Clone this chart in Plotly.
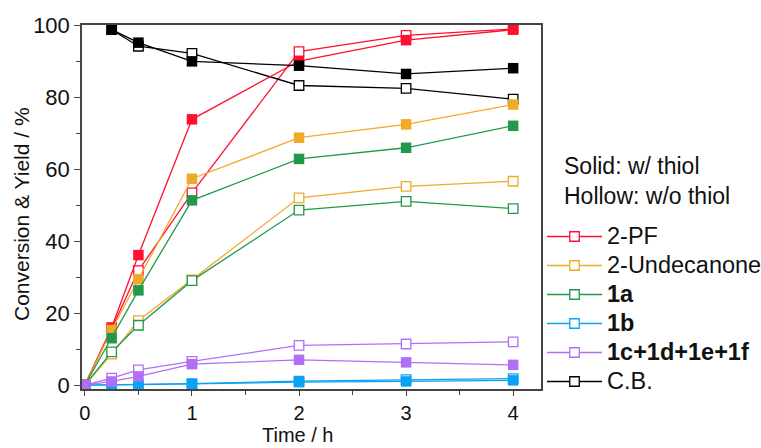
import plotly.graph_objects as go

time_h = [0, 0.25, 0.5, 1, 2, 3, 4]

names = ["2-PF", "2-Undecanone", "<b>1a</b>", "<b>1b</b>", "<b>1c+1d+1e+1f</b>", "C.B."]
colors = ["#FF1030", "#F0AA28", "#22994A", "#0AA2F5", "#B070F5", "#000000"]

solid_pf = [0, 16.0, 36.1, 73.8, 90.0, 95.8, 98.7]
solid_und = [0, 15.3, 29.4, 57.3, 68.7, 72.4, 77.9]
solid_1a = [0, 13.0, 26.3, 51.3, 62.8, 65.9, 72.0]
solid_1b = [0, 0.0, 0.1, 0.3, 0.8, 1.0, 1.3]
solid_1c = [0, 1.0, 2.4, 5.8, 7.0, 6.3, 5.6]
solid_cb = [None, 98.7, 95.1, 89.9, 88.7, 86.4, 88.0]

hollow_pf = [0, 15.6, 31.8, 53.4, 92.6, 97.1, 98.9]
hollow_und = [0, 8.6, 17.9, 29.2, 52.0, 55.2, 56.6]
hollow_1a = [0, 9.2, 16.6, 29.0, 48.6, 51.0, 49.0]
hollow_1b = [0, 0.1, 0.2, 0.4, 1.1, 1.5, 1.8]
hollow_1c = [0, 1.9, 4.2, 6.6, 11.0, 11.4, 12.0]
hollow_cb = [None, 98.7, 94.1, 92.1, 83.2, 82.4, 79.4]

x_title = "Time / h"
y_title = "Conversion & Yield / %"
note = "Solid: w/ thiol<br>Hollow: w/o thiol"

solid = [solid_pf, solid_und, solid_1a, solid_1b, solid_1c, solid_cb]
hollow = [hollow_pf, hollow_und, hollow_1a, hollow_1b, hollow_1c, hollow_cb]

fig = go.Figure()
for nm, c, sv, hv in zip(names, colors, solid, hollow):
    fig.add_trace(go.Scatter(
        x=time_h, y=hv, name='<span style="font-size:23.5px">' + nm + '</span>',
        mode="lines+markers",
        line=dict(color=c, width=1.3),
        marker=dict(symbol="square", size=9.5, color="white",
                    line=dict(color=c, width=1.3)),
        showlegend=True, legendgroup=nm))
for nm, c, sv, hv in zip(names, colors, solid, hollow):
    fig.add_trace(go.Scatter(
        x=time_h, y=sv, name=nm, mode="lines+markers",
        line=dict(color=c, width=1.3),
        marker=dict(symbol="square", size=10.5, color=c,
                    line=dict(color=c, width=0)),
        showlegend=False, legendgroup=nm))

font_family = "Liberation Sans, Arial, sans-serif"
fig.update_layout(
    width=761, height=448,
    margin=dict(l=82, r=220, t=25, b=59, autoexpand=False),
    paper_bgcolor="white", plot_bgcolor="white",
    font=dict(family=font_family, size=21, color="#111"),
    xaxis=dict(range=[-0.027, 4.26], tickvals=[0, 1, 2, 3, 4],
               ticks="outside", ticklen=5, tickwidth=1.3, tickcolor="#444",
               showline=True, linecolor="#444", linewidth=1.5, mirror=True,
               showgrid=False, zeroline=False, automargin=False,
               minor=dict(tickvals=[0.5, 1.5, 2.5, 3.5], ticks="outside",
                          ticklen=4, tickcolor="#444", tickwidth=1.2),
               tickfont=dict(size=20)),
    yaxis=dict(range=[-1.1, 100], tickvals=[0, 20, 40, 60, 80, 100],
               ticks="outside", ticklen=6, tickwidth=1.3, tickcolor="#444",
               showline=True, linecolor="#444", linewidth=1.5, mirror=True,
               showgrid=False, zeroline=False, automargin=False,
               minor=dict(tickvals=[10, 30, 50, 70, 90], ticks="outside",
                          ticklen=4, tickcolor="#444", tickwidth=1.2),
               tickfont=dict(size=22)),
    legend=dict(xref="container", yref="container", x=542 / 761, y=1 - 217 / 448,
                xanchor="left", yanchor="top",
                font=dict(size=20, family=font_family, color="#111"),
                bgcolor="rgba(0,0,0,0)", itemwidth=55,
                tracegroupgap=0, traceorder="normal"),
    annotations=[
        dict(text=note, xref="paper", yref="paper",
             x=1.046, y=0.655, xanchor="left", yanchor="top", showarrow=False,
             align="left", font=dict(size=23, family=font_family, color="#111")),
        dict(text=x_title, xref="paper", yref="paper",
             x=(298 - 82) / 459, y=(389 - 435) / 364, xanchor="center", yanchor="middle",
             showarrow=False, font=dict(size=20, family=font_family, color="#111")),
        dict(text=y_title, xref="paper", yref="paper", textangle=-90,
             x=(22 - 82) / 459, y=(389 - 214) / 364, xanchor="center", yanchor="middle",
             showarrow=False, font=dict(size=21, family=font_family, color="#111")),
    ],
)

fig.write_html("out.html")
